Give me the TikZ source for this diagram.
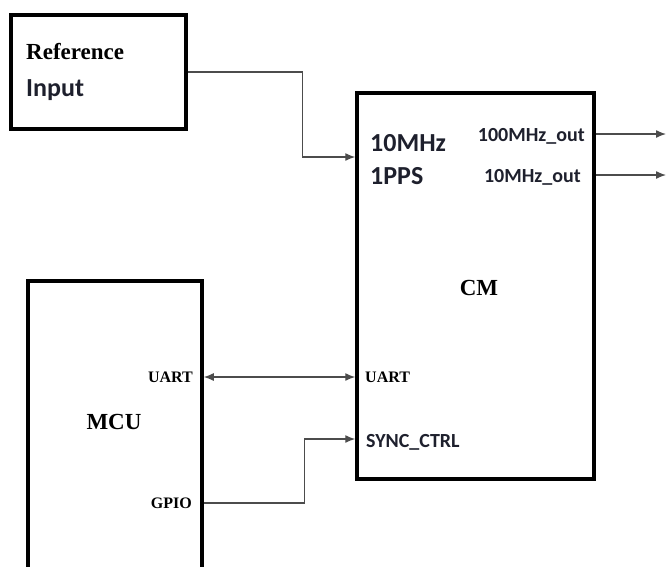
\documentclass[tikz,border=0pt]{standalone}
\usepackage{fontspec}
\setmainfont{Liberation Serif}
\setsansfont{Carlito}
\usetikzlibrary{arrows.meta, positioning, calc}
\definecolor{pinblack}{RGB}{30,32,45}

\begin{document}
\begin{tikzpicture}[x=1pt, y=-1pt,
    block/.style={rectangle, draw, line width=3.5pt, inner sep=0pt},
    pinbig/.style={font=\sffamily\bfseries\fontsize{26}{26}\selectfont, text=pinblack, inner sep=0pt},
    pin/.style={font=\sffamily\bfseries\fontsize{20}{20}\selectfont, text=pinblack, inner sep=0pt},
    bpin/.style={font=\bfseries\fontsize{16}{16}\selectfont, inner sep=0pt},
    title/.style={font=\bfseries\fontsize{23}{23}\selectfont, inner sep=0pt},
    arrow/.style={-{Latex[length=10pt, width=8pt]}, line width=1.3pt, draw=black!70},
    biarrow/.style={{Latex[length=10pt, width=8pt]}-{Latex[length=10pt, width=8pt]}, line width=1.3pt, draw=black!70}]

    \clip (0,0) rectangle (667,566);

    % blocks
    \node[block, minimum width=175pt, minimum height=114pt] (ref) at (98.5,72) {};
    \node[block, minimum width=237pt, minimum height=386pt] (cm) at (475.5,286) {};
    \node[block, minimum width=174pt, minimum height=290pt] (mcu) at (115,426) {};

    % block texts
    \node[title, anchor=west] (reftxt) at (26,52) {Reference};
    \node[pinbig, below=19pt of reftxt.south west, anchor=north west] (inptxt) {Input};
    \node[title] (cmtxt) at (479,288) {CM};
    \node[title] (mcutxt) at (114,422) {MCU};

    % pins of CM
    \node[pinbig, anchor=west] (p10) at (370,143) {10MHz};
    \node[pinbig, anchor=west] (ppps) at (370,176) {1PPS};
    \node[pin, anchor=east] (o100) at (585,136) {100MHz\_out};
    \node[pin, anchor=east] (o10) at (581,177) {10MHz\_out};
    \node[bpin, anchor=west] (cuart) at (365,377) {UART};
    \node[pin, anchor=west] (sync) at (366,442) {SYNC\_CTRL};

    % pins of MCU
    \node[bpin, anchor=east] (muart) at (193,377) {UART};
    \node[bpin, anchor=east] (gpio) at (192,503) {GPIO};

    % connector ends
    \coordinate (cmin) at (cm.west |- 0,157);
    \coordinate (syncin) at (cm.west |- 0,439);
    \coordinate (q100) at (666,134);
    \coordinate (q10) at (666,175);

    % connectors
    \draw[arrow] (ref.east) -| ($(cmin)+(-53,0)$) -- (cmin);
    \draw[arrow] (q100 -| cm.east) -- (q100);
    \draw[arrow] (q10 -| cm.east) -- (q10);
    \draw[biarrow] (mcu.east |- muart) -- (cm.west |- muart);
    \draw[arrow] (mcu.east |- gpio) -| ($(syncin)+(-51,0)$) -- (syncin);
\end{tikzpicture}
\end{document}
